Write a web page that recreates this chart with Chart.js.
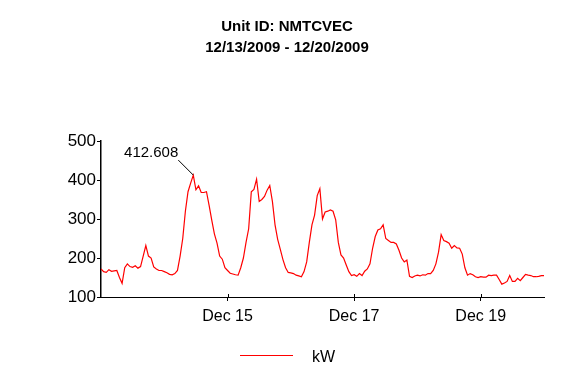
<!DOCTYPE html>
<html>
<head>
<meta charset="utf-8">
<script src="https://cdn.jsdelivr.net/npm/chart.js@4.4.0/dist/chart.umd.min.js"></script>
<style>
html,body{margin:0;padding:0;background:#fff;}
#wrap{width:580px;height:380px;position:relative;}
</style>
</head>
<body>
<div id="wrap"><canvas id="c" width="580" height="380"></canvas></div>
<script>
const titleLines = ["Unit ID: NMTCVEC", "12/13/2009 - 12/20/2009"];
const seriesName = "kW";
// hourly kW readings, one array per day
const dec13 = [172,165,163,170,166,167,168,150,135,175,185,178,176,180,174,178,205,232,205,200,177,172,168,168];
const dec14 = [165,162,158,157,160,168,205,250,320,370,392,412.608,375,385,368,368,370,335,297,262,238,205,197,175];
const dec15 = [168,161,159,157,156,175,200,240,275,370,376,402,345,350,358,374,386,345,285,248,222,196,175,163];
const dec16 = [162,160,156,154,152,165,190,240,285,310,360,378,300,318,320,323,320,298,240,208,200,182,165,155];
const dec17 = [157,153,160,155,166,172,185,225,255,272,275,285,250,245,240,240,236,220,200,190,195,153,150,154];
const dec18 = [156,154,157,156,160,160,168,185,215,260,245,242,238,225,232,226,225,210,175,156,160,157,152,150];
const dec19 = [152,151,151,156,155,156,156,145,133,136,140,155,140,140,148,142,150,158,156,155,152,152,153,155];
const dec20 = [155];
const xTickHours = [48, 96, 144];
const xTickLabels = ["Dec 15", "Dec 17", "Dec 19"];
const yMin = 100, yMax = 500;

const values = [].concat(dec13, dec14, dec15, dec16, dec17, dec18, dec19, dec20);
const points = values.map((v, i) => ({x: i, y: v}));
const peakIndex = values.indexOf(Math.max(...values));

const FONT = "'Liberation Sans', Arial, sans-serif";

const decor = {
  id: 'decor',
  afterDraw(chart) {
    const ctx = chart.ctx;
    const xs = chart.scales.x, ys = chart.scales.y;
    ctx.save();
    // title
    ctx.fillStyle = '#000';
    ctx.font = 'bold 15px ' + FONT;
    ctx.textAlign = 'center';
    ctx.textBaseline = 'alphabetic';
    ctx.fillText(titleLines[0], 287, 31);
    ctx.fillText(titleLines[1], 287, 52);
    // x tick marks crossing axis (upper part)
    ctx.strokeStyle = '#000';
    ctx.lineWidth = 1;
    xTickHours.forEach(h => {
      const px = Math.round(xs.getPixelForValue(h)) + 0.5;
      ctx.beginPath();
      ctx.moveTo(px, ys.bottom - 3);
      ctx.lineTo(px, ys.bottom);
      ctx.stroke();
    });
    // peak annotation
    const px = xs.getPixelForValue(peakIndex);
    const py = ys.getPixelForValue(values[peakIndex]);
    ctx.beginPath();
    ctx.moveTo(px, py);
    ctx.lineTo(px - 15, py - 15);
    ctx.stroke();
    ctx.font = '15px ' + FONT;
    ctx.textAlign = 'right';
    ctx.fillText(values[peakIndex].toFixed(3), px - 15, py - 18);
    // legend
    ctx.strokeStyle = '#ff0000';
    ctx.beginPath();
    ctx.moveTo(240, 355.5);
    ctx.lineTo(293, 355.5);
    ctx.stroke();
    ctx.fillStyle = '#000';
    ctx.font = '16px ' + FONT;
    ctx.textAlign = 'left';
    ctx.fillText(seriesName, 312, 362);
    ctx.restore();
  }
};

new Chart(document.getElementById('c'), {
  type: 'line',
  data: {
    datasets: [{
      label: seriesName,
      data: points,
      borderColor: '#ff0000',
      borderWidth: 1.2,
      pointRadius: 0,
      tension: 0,
      fill: false
    }]
  },
  options: {
    responsive: false,
    animation: false,
    events: [],
    layout: { padding: { left: 0, right: 36, top: 141, bottom: 53 } },
    plugins: {
      legend: { display: false },
      title: { display: false },
      tooltip: { enabled: false }
    },
    scales: {
      x: {
        type: 'linear',
        min: 0,
        max: values.length - 1,
        afterFit(s) { s.height = 30; },
        afterBuildTicks(s) { s.ticks = xTickHours.map(v => ({value: v})); },
        grid: { drawOnChartArea: false, tickLength: 4, color: '#000' },
        border: { color: '#000', width: 1 },
        ticks: {
          color: '#000',
          font: { family: FONT, size: 16 },
          padding: 6,
          maxRotation: 0,
          autoSkip: false,
          callback(v) { const i = xTickHours.indexOf(v); return i >= 0 ? xTickLabels[i] : ''; }
        }
      },
      y: {
        min: yMin,
        max: yMax,
        afterFit(s) { s.width = 101; },
        grid: { drawOnChartArea: false, tickLength: 4, color: '#000' },
        border: { color: '#000', width: 1.5 },
        ticks: {
          stepSize: 50,
          color: '#000',
          font: { family: FONT, size: 17 },
          padding: 1,
          callback(v) { return v % 100 === 0 ? String(v) : ''; }
        }
      }
    }
  },
  plugins: [decor]
});
</script>
</body>
</html>
